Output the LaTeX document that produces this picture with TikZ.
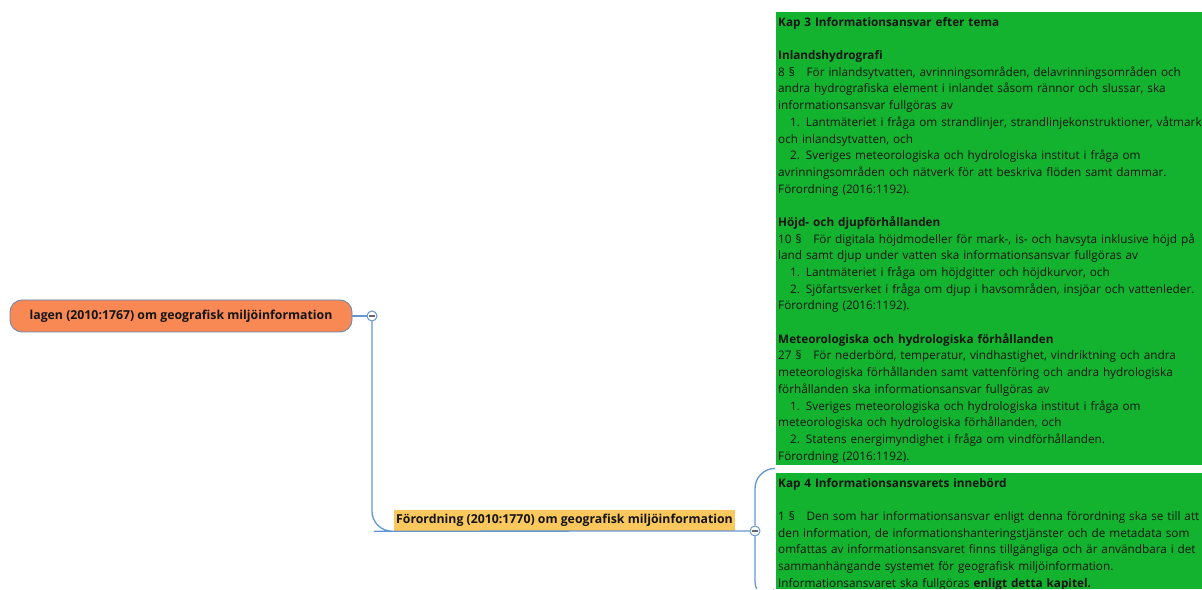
\documentclass[tikz,border=0pt]{standalone}
\usepackage{fontspec}
\setmainfont{Open Sans}
\usetikzlibrary{fit,backgrounds}

\definecolor{leafgreen}{RGB}{19,178,47}
\definecolor{rootorange}{RGB}{248,137,84}
\definecolor{subyellow}{RGB}{250,200,92}
\definecolor{linkblue}{RGB}{100,150,208}
\definecolor{frameblue}{RGB}{150,188,232}
\definecolor{rootedge}{RGB}{95,135,185}
\definecolor{inktext}{RGB}{20,20,20}

% paragraph number followed by its gap, and the indent of numbered items
\newcommand\parno[1]{#1\hspace{1em}}
\newcommand\listindent{\hspace*{12pt}}
\newcommand\emptyline{\\[\baselineskip]}

\tikzset{
  x=1pt, y=1pt,
  bodyfont/.style={font=\fontsize{11.75}{16.69}\selectfont},
  labelfont/.style={font=\bfseries\fontsize{12.3}{14}\selectfont},
  notebox/.style={bodyfont, fill=leafgreen, text=inktext, anchor=north west,
    inner xsep=2pt, inner ysep=2.3pt, text width=520pt, align=left},
  noteframe/.style={draw=frameblue, fill=white, line width=1pt,
    rounded corners=2pt, inner sep=2.5pt},
  rootnode/.style={labelfont, fill=rootorange, draw=rootedge, line width=0.8pt,
    rounded corners=12pt, minimum width=342pt, minimum height=32pt, text=inktext},
  subnode/.style={labelfont, fill=subyellow, inner sep=0pt,
    minimum width=341pt, minimum height=21pt, text=inktext},
  toggle/.style={circle, draw=linkblue, fill=white, line width=1pt,
    minimum size=10pt, inner sep=0pt,
    path picture={\draw[black!60, line width=1.2pt]
      ([xshift=-2.6pt]path picture bounding box.center) --
      ([xshift=2.6pt]path picture bounding box.center);}},
  linkline/.style={draw=linkblue, line width=1.3pt},
}

\begin{document}
\begin{tikzpicture}
\useasboundingbox (0,0) rectangle (1202,589);
\clip (0,0) rectangle (1202,589);
\fill[white] (0,0) rectangle (1202,589);

% central topic and its sub topic
\node[rootnode] (root) at (181,273) {\raisebox{-1pt}{lagen (2010:1767) om geografisk miljöinformation}};
\node[subnode] (ford) at (564.5,68.5) {\raisebox{-0.5pt}{Förordning (2010:1770) om geografisk miljöinformation}};

% note topics
\node[notebox] (kap3) at (776,577) {\strut\textbf{Kap 3 Informationsansvar efter tema}\emptyline
\textbf{Inlandshydrografi}\\
\parno{8 §}För inlandsytvatten, avrinningsområden, delavrinningsområden och\\
andra hydrografiska element i inlandet såsom rännor och slussar, ska\\
informationsansvar fullgöras av\\
\listindent 1. Lantmäteriet i fråga om strandlinjer, strandlinjekonstruktioner, våtmarker\\
och inlandsytvatten, och\\
\listindent 2. Sveriges meteorologiska och hydrologiska institut i fråga om\\
avrinningsområden och nätverk för att beskriva flöden samt dammar.\\
Förordning (2016:1192).\emptyline
\textbf{Höjd- och djupförhållanden}\\
\parno{10 §}För digitala höjdmodeller för mark-, is- och havsyta inklusive höjd på\\
land samt djup under vatten ska informationsansvar fullgöras av\\
\listindent 1. Lantmäteriet i fråga om höjdgitter och höjdkurvor, och\\
\listindent 2. Sjöfartsverket i fråga om djup i havsområden, insjöar och vattenleder.\\
Förordning (2016:1192).\emptyline
\textbf{Meteorologiska och hydrologiska förhållanden}\\
\parno{27 §}För nederbörd, temperatur, vindhastighet, vindriktning och andra\\
meteorologiska förhållanden samt vattenföring och andra hydrologiska\\
förhållanden ska informationsansvar fullgöras av\\
\listindent 1. Sveriges meteorologiska och hydrologiska institut i fråga om\\
meteorologiska och hydrologiska förhållanden, och\\
\listindent 2. Statens energimyndighet i fråga om vindförhållanden.\\
Förordning (2016:1192).};

\node[notebox] (kap4) at (776,116) {\strut\textbf{Kap 4 Informationsansvarets innebörd}\emptyline
\parno{1 §}Den som har informationsansvar enligt denna förordning ska se till att\\
den information, de informationshanteringstjänster och de metadata som\\
omfattas av informationsansvaret finns tillgängliga och är användbara i det\\
sammanhängande systemet för geografisk miljöinformation.\\
Informationsansvaret ska fullgöras \textbf{enligt detta kapitel.}\strut};
% the note continues below the visible area
\coordinate (kap4end) at (kap4.south west |- 0,-9);

\begin{scope}[on background layer]
  \node[noteframe, fit=(kap3)] (kap3frame) {};
  \node[noteframe, fit=(kap4) (kap4end)] (kap4frame) {};
\end{scope}

% collapse toggles
\node[toggle] (c1) at (372,273) {};
\node[toggle] (c2) at (755,58) {};

% branches
\draw[linkline] (root.east) -- (c1.west);
\draw[linkline, rounded corners=20pt] (c1.south) |- (ford.south west) -- (c2.west);
\draw[linkline, rounded corners=20pt] (c2.north) |- (kap3frame.south west);
\draw[linkline, rounded corners=20pt] (c2.south) |- (kap4frame.south west);
\end{tikzpicture}
\end{document}
